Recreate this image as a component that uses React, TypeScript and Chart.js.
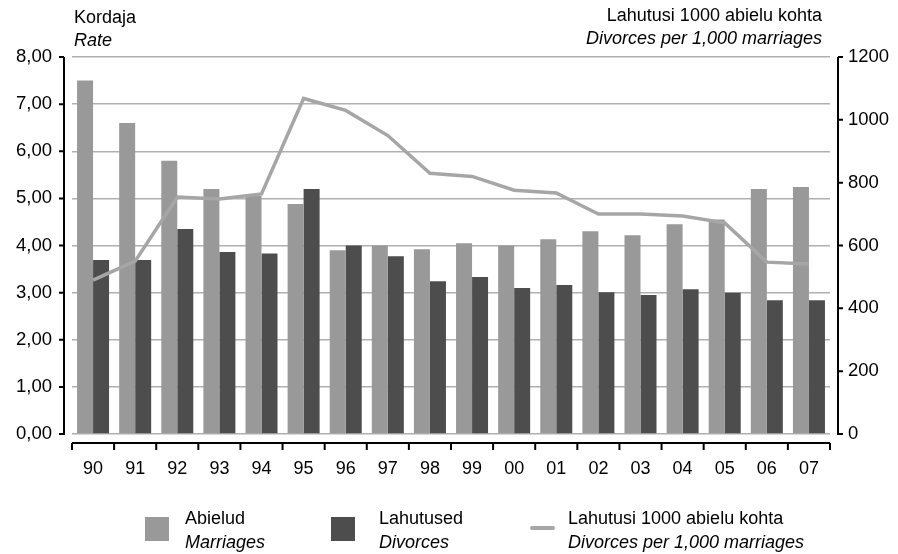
import React, { useEffect, useRef } from "react";
import { Chart, registerables } from "chart.js";

Chart.register(...registerables);

const years = ["90", "91", "92", "93", "94", "95", "96", "97", "98", "99", "00", "01", "02", "03", "04", "05", "06", "07"];
const marriages = [7.5, 6.6, 5.8, 5.2, 5.05, 4.88, 3.9, 4.0, 3.92, 4.05, 4.0, 4.13, 4.3, 4.22, 4.45, 4.55, 5.2, 5.24];
const divorces = [3.69, 3.69, 4.35, 3.86, 3.83, 5.2, 4.0, 3.77, 3.24, 3.33, 3.1, 3.16, 3.01, 2.95, 3.07, 3.0, 2.84, 2.84];
const divorcesPer1000 = [490, 550, 754, 748, 764, 1068, 1030, 950, 830, 820, 776, 767, 700, 700, 694, 672, 547, 541];
const leftTicks = [0, 1, 2, 3, 4, 5, 6, 7, 8];
const rightTicks = [0, 200, 400, 600, 800, 1000, 1200];

const FONT = "'Liberation Sans', Arial, sans-serif";
const C_MAR = "#999999";
const C_DIV = "#4d4d4d";
const C_LINE = "#a6a6a6";

const axisPlugin = {
  id: "axisLines",
  afterDraw(chart: any) {
    const { ctx, chartArea } = chart;
    const y = chart.scales.y;
    const y1 = chart.scales.y1;
    const x = chart.scales.x;
    ctx.save();
    ctx.strokeStyle = "#000";
    ctx.lineWidth = 2;
    // left axis
    const lx = chartArea.left - 8;
    ctx.beginPath();
    ctx.moveTo(lx, y.getPixelForValue(leftTicks[leftTicks.length - 1]));
    ctx.lineTo(lx, y.getPixelForValue(0) + 1);
    leftTicks.forEach((v) => {
      const py = y.getPixelForValue(v);
      ctx.moveTo(lx - 5, py);
      ctx.lineTo(lx, py);
    });
    ctx.stroke();
    // right axis
    const rx = chartArea.right + 8;
    ctx.beginPath();
    ctx.moveTo(rx, y1.getPixelForValue(rightTicks[rightTicks.length - 1]));
    ctx.lineTo(rx, y1.getPixelForValue(0) + 1);
    rightTicks.forEach((v) => {
      const py = y1.getPixelForValue(v);
      ctx.moveTo(rx, py);
      ctx.lineTo(rx + 5, py);
    });
    ctx.stroke();
    // x axis
    const by = chartArea.bottom + 9;
    ctx.beginPath();
    ctx.moveTo(chartArea.left, by);
    ctx.lineTo(chartArea.right, by);
    for (let i = 0; i <= years.length; i++) {
      const px = x.getPixelForValue(i - 0.5);
      ctx.moveTo(px, by);
      ctx.lineTo(px, by + 7);
    }
    ctx.stroke();
    ctx.restore();
  },
};

export default function App() {
  const ref = useRef<HTMLCanvasElement | null>(null);

  useEffect(() => {
    document.body.style.margin = "0";
    if (!ref.current) return;
    const chart = new Chart(ref.current, {
      type: "bar",
      data: {
        labels: years,
        datasets: [
          {
            type: "line",
            label: "Lahutusi 1000 abielu kohta",
            data: divorcesPer1000,
            yAxisID: "y1",
            borderColor: C_LINE,
            backgroundColor: C_LINE,
            borderWidth: 3.5,
            pointRadius: 0,
            tension: 0,
            order: 0,
          } as any,
          {
            type: "bar",
            label: "Abielud",
            data: marriages,
            yAxisID: "y",
            backgroundColor: C_MAR,
            categoryPercentage: 0.76,
            barPercentage: 1,
            order: 1,
          },
          {
            type: "bar",
            label: "Lahutused",
            data: divorces,
            yAxisID: "y",
            backgroundColor: C_DIV,
            categoryPercentage: 0.76,
            barPercentage: 1,
            order: 1,
          },
        ],
      },
      options: {
        animation: false,
        responsive: false,
        maintainAspectRatio: false,
        layout: { padding: { top: 57, left: 0, right: 0, bottom: 0 } },
        plugins: { legend: { display: false }, tooltip: { enabled: false } },
        scales: {
          x: {
            type: "category",
            offset: true,
            grid: { display: false },
            border: { display: false },
            ticks: { color: "#000", font: { family: FONT, size: 18 }, padding: 16, maxRotation: 0, autoSkip: false },
            afterFit: (s: any) => { s.height = 120; },
          },
          y: {
            position: "left",
            min: 0,
            max: 8,
            grid: { color: "#b0b0b0", lineWidth: 1.5, drawTicks: false },
            border: { display: false },
            ticks: {
              stepSize: 1,
              color: "#000",
              font: { family: FONT, size: 18.5 },
              padding: 20,
              callback: (v: any) => Number(v).toFixed(2).replace(".", ","),
            },
            afterFit: (s: any) => { s.width = 72; },
          },
          y1: {
            position: "right",
            min: 0,
            max: 1200,
            grid: { drawOnChartArea: false, drawTicks: false },
            border: { display: false },
            ticks: {
              stepSize: 200,
              color: "#000",
              font: { family: FONT, size: 18.5 },
              padding: 18,
              callback: (v: any) => String(v),
            },
            afterFit: (s: any) => { s.width = 68; },
          },
        },
      },
      plugins: [axisPlugin],
    });
    return () => chart.destroy();
  }, []);

  const txt: React.CSSProperties = { position: "absolute", fontFamily: FONT, fontSize: 18, lineHeight: "23px", color: "#000", whiteSpace: "nowrap" };
  const leg: React.CSSProperties = { ...txt, lineHeight: "24px", top: 506 };

  return (
    <div style={{ position: "relative", width: 898, height: 554, background: "#fff", overflow: "hidden" }}>
      <canvas ref={ref} width={898} height={554} style={{ position: "absolute", left: 0, top: 0, width: 898, height: 554 }} />
      <div style={{ ...txt, left: 74, top: 6 }}>Kordaja<br /><i>Rate</i></div>
      <div style={{ ...txt, right: 76, top: 4, textAlign: "right" }}>Lahutusi 1000 abielu kohta<br /><i>Divorces per 1,000 marriages</i></div>
      <div style={{ position: "absolute", left: 145, top: 517, width: 24, height: 24, background: C_MAR }} />
      <div style={{ ...leg, left: 185 }}>Abielud<br /><i>Marriages</i></div>
      <div style={{ position: "absolute", left: 331, top: 517, width: 24, height: 24, background: C_DIV }} />
      <div style={{ ...leg, left: 379 }}>Lahutused<br /><i>Divorces</i></div>
      <div style={{ position: "absolute", left: 530, top: 526, width: 25, height: 4, background: C_LINE, borderRadius: 2 }} />
      <div style={{ ...leg, left: 568 }}>Lahutusi 1000 abielu kohta<br /><i>Divorces per 1,000 marriages</i></div>
    </div>
  );
}
